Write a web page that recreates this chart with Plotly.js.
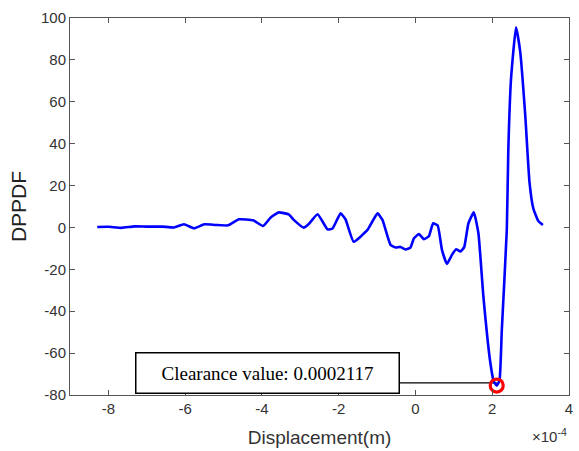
<!DOCTYPE html>
<html>
<head>
<meta charset="utf-8">
<script src="https://cdn.plot.ly/plotly-3.0.1.min.js"></script>
<style>
  html, body { margin: 0; padding: 0; background: #fff; }
  #chart { width: 579px; height: 451px; }
</style>
</head>
<body>
<div id="chart"></div>
<script>
// Displacement samples, in units of 1e-4 m
const dispE4 = [
  -8.29, -8.0, -7.66, -7.32, -7.0, -6.6, -6.29, -6.03, -5.77, -5.5,
  -5.2, -4.88, -4.6, -4.23, -3.97, -3.77, -3.56, -3.3, -3.17, -2.91,
  -2.78, -2.55, -2.29, -2.16, -1.95, -1.82, -1.61, -1.25, -0.99, -0.86,
  -0.65, -0.52, -0.39, -0.26, -0.13, -0.04, 0.09, 0.22, 0.35, 0.46,
  0.58, 0.69, 0.82, 0.95, 1.06, 1.17, 1.27, 1.38, 1.52, 1.64,
  1.77, 1.95, 2.04, 2.117, 2.19, 2.25, 2.38, 2.42, 2.49, 2.62,
  2.73, 2.86, 2.97, 3.07, 3.2, 3.32
];
// DPPDF values at each displacement
const dppdf = [
  0.2, 0.3, -0.2, 0.5, 0.4, 0.4, 0.0, 1.5, -0.4, 1.5,
  1.2, 1.0, 3.9, 3.4, 0.7, 4.8, 7.2, 6.2, 3.6, -0.1,
  1.6, 6.3, -0.9, -0.5, 6.7, 3.8, -6.8, -1.2, 6.7, 3.6,
  -8.3, -9.6, -9.3, -10.5, -9.6, -5.2, -3.1, -5.6, -4.2, 2.0,
  0.9, -10.7, -17.4, -13.1, -10.4, -11.5, -9.4, 2.0, 7.2, -2.8,
  -33.0, -64.5, -73.5, -75.5, -73.0, -48.8, -1.0, 37.8, 71.0, 95.6,
  83.7, 53.6, 21.8, 9.1, 3.1, 1.2
];
const clearance = 0.0002117;

const xTickVals = [-8, -6, -4, -2, 0, 2, 4];
const yTickVals = [-80, -60, -40, -20, 0, 20, 40, 60, 80, 100];

const xs = dispE4.map(v => v * 1e-4);

// locate the minimum of the curve (the clearance point)
let iMin = 0;
dppdf.forEach((v, i) => { if (v < dppdf[iMin]) iMin = i; });
const minY = dppdf[iMin];

const axisColor = '#555555';
const sans = 'Liberation Sans, Arial, sans-serif';
const tickFont = { family: sans, size: 15, color: '#333333' };

const traces = [
  {
    x: xs, y: dppdf, type: 'scatter', mode: 'lines',
    line: { color: '#0000ff', width: 2.6, shape: 'spline', smoothing: 0.4 },
    hoverinfo: 'skip'
  },
  {
    x: [clearance], y: [minY], type: 'scatter', mode: 'markers',
    marker: { symbol: 'circle-open', size: 13, color: '#ff0000', line: { width: 3.2, color: '#ff0000' } },
    hoverinfo: 'skip'
  }
];

const layout = {
  width: 579, height: 451,
  margin: { l: 70, r: 10, t: 18, b: 56 },
  paper_bgcolor: '#ffffff', plot_bgcolor: '#ffffff',
  showlegend: false,
  xaxis: {
    range: [-9e-4, 4e-4],
    tickvals: xTickVals.map(v => v * 1e-4),
    ticktext: xTickVals.map(v => String(v)),
    ticks: 'inside', ticklen: 5, tickcolor: axisColor, tickwidth: 1,
    showline: true, linecolor: axisColor, linewidth: 1, mirror: 'ticks',
    showgrid: false, zeroline: false,
    tickfont: tickFont,
    title: { text: 'Displacement(m)', font: { family: sans, size: 19, color: '#333333' }, standoff: 14 }
  },
  yaxis: {
    range: [-80, 100],
    tickvals: yTickVals,
    ticktext: yTickVals.map(v => String(v)),
    ticks: 'inside', ticklen: 5, tickcolor: axisColor, tickwidth: 1,
    showline: true, linecolor: axisColor, linewidth: 1, mirror: 'ticks',
    showgrid: false, zeroline: false,
    tickfont: tickFont,
    title: { text: 'DPPDF', font: { family: sans, size: 21, color: '#222222' }, standoff: 8 }
  },
  shapes: [
    {
      type: 'line', xref: 'x', yref: 'y',
      x0: -0.42e-4, x1: clearance, y0: minY + 1.3, y1: minY + 1.3,
      line: { color: '#000000', width: 1.3 }, layer: 'below'
    }
  ],
  annotations: [
    {
      xref: 'x', yref: 'y', x: -3.86e-4, y: -69.4,
      text: 'Clearance value: ' + clearance.toFixed(7),
      showarrow: false,
      font: { family: 'Liberation Serif, Times New Roman, serif', size: 19, color: '#000000' },
      bgcolor: '#ffffff', bordercolor: '#000000', borderwidth: 1.5, borderpad: 0,
      width: 262, height: 39, align: 'center', valign: 'middle'
    },
    {
      xref: 'paper', yref: 'paper', x: 1.0, y: 0, yshift: -29, xanchor: 'right', yanchor: 'top',
      text: '×10<sup>-4</sup>', showarrow: false,
      font: { family: sans, size: 15, color: '#333333' }
    }
  ]
};

Plotly.newPlot('chart', traces, layout, { displayModeBar: false, staticPlot: true });
</script>
</body>
</html>
